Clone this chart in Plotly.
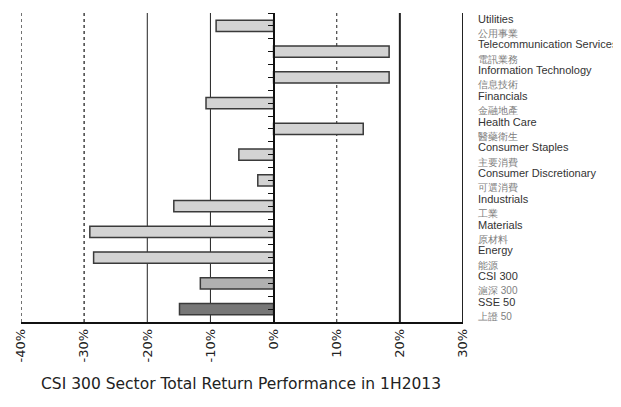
import plotly.graph_objects as go

# ---- data ----
sectors_en = ["Utilities", "Telecommunication Services", "Information Technology",
              "Financials", "Health Care", "Consumer Staples", "Consumer Discretionary",
              "Industrials", "Materials", "Energy", "CSI 300", "SSE 50"]
sectors_zh = ["公用事業", "電訊業務", "信息技術", "金融地產", "醫藥衛生", "主要消費",
              "可選消費", "工業", "原材料", "能源", "滬深 300", "上證 50"]
returns_pct = [-9.1, 18.3, 18.3, -10.7, 14.2, -5.5, -2.5, -15.8, -29.1, -28.5, -11.6, -14.9]
x_ticks = [-40, -30, -20, -10, 0, 10, 20, 30]
x_tick_text = ["-40%", "-30%", "-20%", "-10%", "0%", "10%", "20%", "30%"]
title_en = "CSI 300 Sector Total Return Performance in 1H2013"
title_zh = "圖二：滬深300指數行業總回報表現（2013年上半年）"

# ---- styles ----
bar_colors = ["#d3d3d3"] * 10 + ["#b1b1b1", "#777777"]
grid_style = {-40: ("dot", 1.5, "#444"), -30: ("dot", 1.5, "#444"), -20: ("solid", 1, "#222"),
              -10: ("solid", 1, "#222"), 10: ("dot", 1.2, "#444"), 20: ("solid", 2, "#222"),
              30: ("solid", 2, "#222")}

labels = [f"{e}<br><span style='font-size:10px;color:#808080'>{z}</span>"
          for e, z in zip(sectors_en, sectors_zh)]
n = len(sectors_en)

fig = go.Figure()
fig.add_trace(go.Bar(
    x=returns_pct, y=list(range(n)), orientation="h",
    marker=dict(color=bar_colors, line=dict(color="#3a3a3a", width=1.5)),
    width=0.43, hoverinfo="skip", showlegend=False))
# invisible trace to hold the zero-line axis
fig.add_trace(go.Scatter(x=[0, 0], y=[-0.5, n - 0.5], yaxis="y2", mode="lines",
                         line=dict(width=0), hoverinfo="skip", showlegend=False))

for v, (dash, w, c) in grid_style.items():
    fig.add_shape(type="line", xref="x", yref="paper", x0=v, x1=v, y0=0, y1=1,
                  line=dict(color=c, width=w, dash=dash), layer="below")

fig.update_layout(
    width=613, height=399,
    margin=dict(l=13, r=158, t=5, b=85),
    paper_bgcolor="white", plot_bgcolor="white",
    font=dict(family="DejaVu Sans", color="#222"),
    xaxis=dict(range=[-40, 30], tickvals=x_ticks, ticktext=x_tick_text, tickangle=-90,
               showgrid=False, zeroline=False, showline=True, linecolor="#111",
               linewidth=1.5, ticks="", automargin=False,
               tickfont=dict(size=13, color="#222")),
    yaxis=dict(range=[n - 0.5, -0.5], tickvals=list(range(n)), ticktext=labels,
               side="right", showgrid=False, zeroline=False, showline=False,
               ticks="", ticklabelstandoff=14, automargin=False,
               tickfont=dict(family="Liberation Sans", size=11, color="#333")),
    yaxis2=dict(range=[n - 0.5, -0.5], overlaying="y", anchor="free",
                position=40 / 70, side="left", showline=True, linecolor="#111",
                linewidth=1.5, ticks="outside", ticklen=5, tickcolor="#111",
                tickwidth=1.2, tick0=-0.5, dtick=0.5, showticklabels=False,
                showgrid=False, zeroline=False, automargin=False),
    annotations=[
        dict(text=title_en, xref="paper", yref="paper", x=0.498, y=-0.2006,
             xanchor="center", yanchor="middle", showarrow=False,
             font=dict(size=15.5, color="#222")),
        dict(text=title_zh, xref="paper", yref="paper", x=0.498, y=-0.297,
             xanchor="center", yanchor="middle", showarrow=False,
             font=dict(family="Noto Sans CJK TC", size=13, color="#444")),
    ],
)

fig.write_html("out.html")
